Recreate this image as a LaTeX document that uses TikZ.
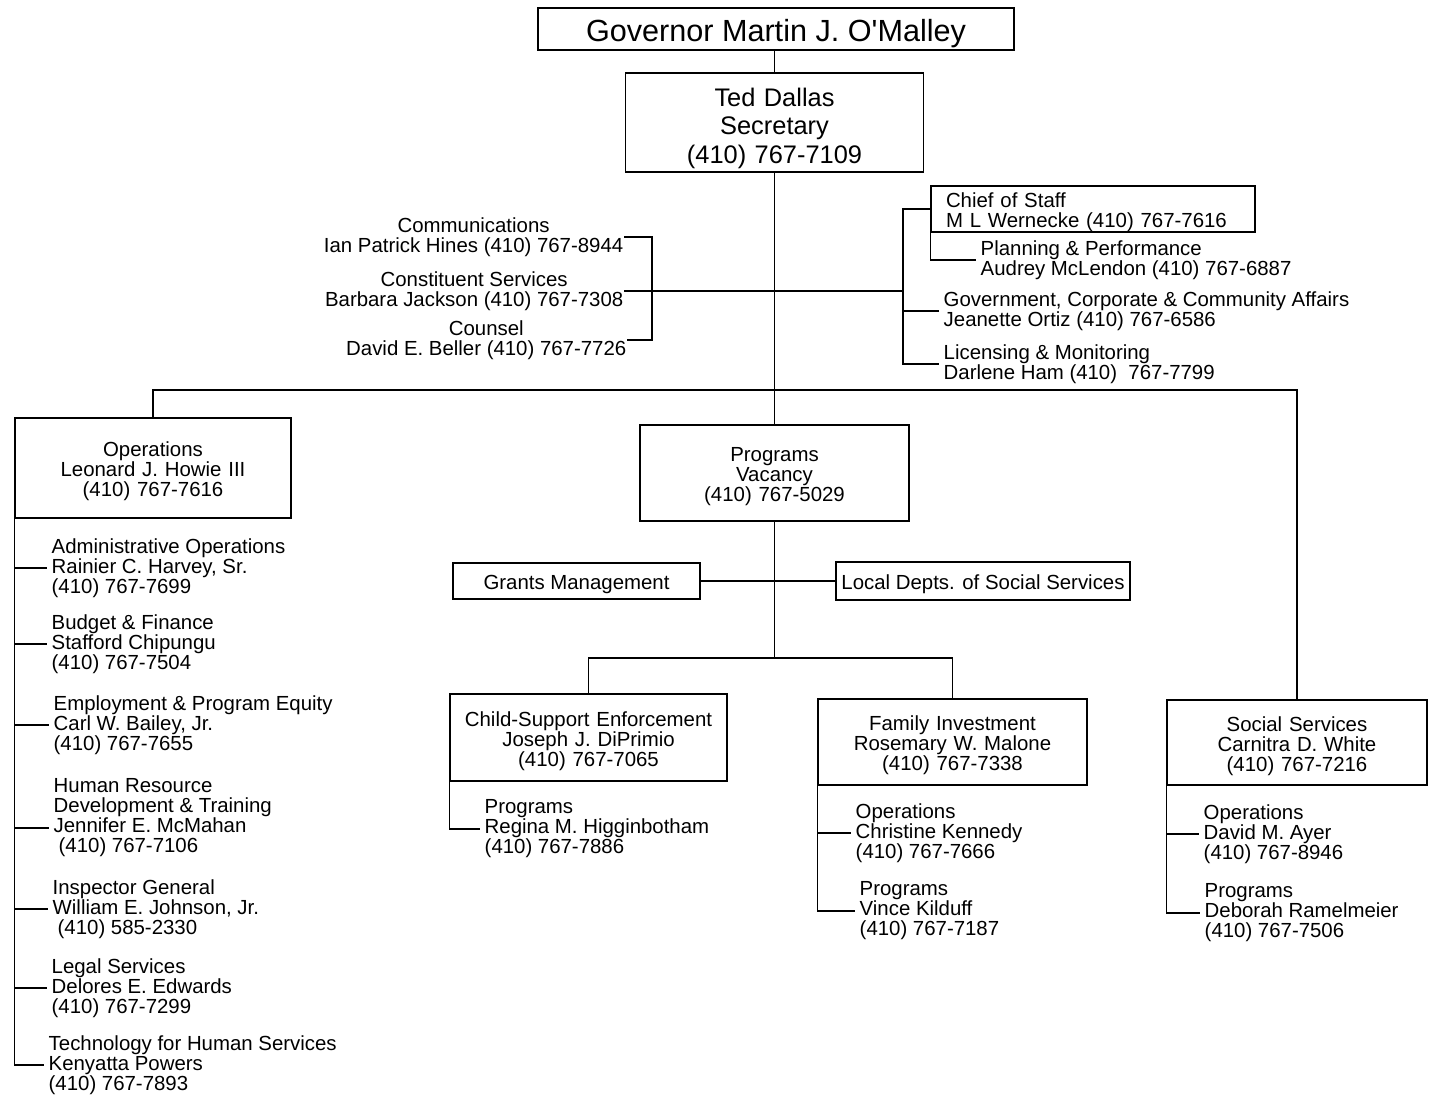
\documentclass[tikz,border=0pt]{standalone}
\usepackage{fontspec}
\setmainfont{Liberation Sans}
\usepackage{tikz}

\begin{document}
\begin{tikzpicture}[x=0.5pt,y=-0.5pt,line width=0.7pt,
	box/.style={draw,line width=0.8pt,align=center,inner sep=0pt,font=\fontsize{10.2}{10}\selectfont,execute at begin node={\rule{0pt}{11pt}}},
	lbl/.style={anchor=west,align=left,inner xsep=2pt,inner ysep=0pt,font=\fontsize{10.2}{10}\selectfont},
	staff/.style={anchor=east,align=center,inner sep=0pt,font=\fontsize{10.2}{10}\selectfont}]
	\useasboundingbox (0,0) rectangle (1429,1096);
	\node[box,minimum width=238pt,minimum height=21pt,font=\fontsize{15.3}{18}\selectfont,execute at begin node={\rule{0pt}{16pt}}] (gov) at (776,29) {Governor Martin J. O\textquotesingle Malley};
	\node[box,minimum width=149pt,text width=145pt,minimum height=49.5pt,font=\fontsize{12.7}{14.3}\selectfont,execute at begin node={\rule{0pt}{15pt}}] (sec) at (774.5,122.5) {Ted Dallas\\Secretary\\(410) 767-7109};
	\draw (sec.north) -- (sec.north |- gov.south);
	\node[staff] (comm) at (624,237) {Communications\\Ian Patrick Hines (410) 767-8944};
	\node[staff] (const) at (624,291) {Constituent Services\\Barbara Jackson (410) 767-7308};
	\node[staff] (couns) at (627,340) {Counsel\\David E. Beller (410) 767-7726};
	\coordinate (lk) at (652,291);
	\coordinate (rk) at (903,291);
	\draw (const.east) -- (rk);
	\draw (comm.east) -| (lk) |- (couns.east);
	\node[box,minimum width=162pt,minimum height=23pt,text width=147pt,align=left,inner xsep=7.5pt,execute at begin node={\rule{0pt}{9pt}}] (chief) at (1093,209) {Chief of Staff\\M L Wernecke (410) 767-7616};
	\node[lbl] (plan) at (976,260) {Planning \& Performance\\Audrey McLendon (410) 767-6887};
	\node[lbl] (govt) at (939,311) {Government, Corporate \& Community Affairs\\Jeanette Ortiz (410) 767-6586};
	\node[lbl] (lic) at (939,364) {Licensing \& Monitoring\\Darlene Ham (410)\ \ 767-7799};
	\draw (chief.west) -| (rk) |- (lic.west);
	\draw (govt.west) -- (govt.west -| rk);
	\draw (chief.south west) |- (plan.west);
	\node[box,minimum width=138pt,text width=134pt,minimum height=50pt] (ops) at (153,468) {Operations\\Leonard J. Howie III\\(410) 767-7616};
	\node[box,minimum width=134.5pt,text width=130pt,minimum height=48pt] (prg) at (774.5,473) {Programs\\Vacancy\\(410) 767-5029};
	\node[box,minimum width=130pt,text width=126pt,minimum height=42.5pt] (soc) at (1297,742.5) {Social Services\\Carnitra D. White\\(410) 767-7216};
	\coordinate (bus) at (774.5,390);
	\draw (sec.south) -- (prg.north);
	\draw (ops.north) |- (bus) -| (soc.north);
	\node[lbl] (adm) at (47,568) {Administrative Operations\\Rainier C. Harvey, Sr.\\(410) 767-7699};
	\node[lbl] (bud) at (47,644) {Budget \& Finance\\Stafford Chipungu\\(410) 767-7504};
	\node[lbl] (emp) at (49,725) {Employment \& Program Equity\\Carl W. Bailey, Jr.\\(410) 767-7655};
	\node[lbl] (hrd) at (49,818) {Human Resource\\Development \& Training\\Jennifer E. McMahan\\\hspace*{2.5pt}(410) 767-7106};
	\node[lbl] (insp) at (48,909) {Inspector General\\William E. Johnson, Jr.\\\hspace*{2.5pt}(410) 585-2330};
	\node[lbl] (leg) at (47,988) {Legal Services\\Delores E. Edwards\\(410) 767-7299};
	\node[lbl] (tech) at (44,1065) {Technology for Human Services\\Kenyatta Powers\\(410) 767-7893};
	\draw (ops.south west) |- (tech.west);
	\draw (ops.south west |- adm.west) -- (adm.west);
	\draw (ops.south west |- bud.west) -- (bud.west);
	\draw (ops.south west |- emp.west) -- (emp.west);
	\draw (ops.south west |- hrd.west) ++(0,10) -- ([yshift=-5pt]hrd.west);
	\draw (ops.south west |- insp.west) -- (insp.west);
	\draw (ops.south west |- leg.west) -- (leg.west);
	\node[box,minimum width=123.5pt,minimum height=18pt] (grm) at (576.5,581) {Grants Management};
	\node[box,minimum width=147pt,minimum height=19pt] (loc) at (983,581) {Local Depts. of Social Services};
	\draw (grm.east) -- (loc.west);
	\node[box,minimum width=138.5pt,text width=134pt,minimum height=43.5pt] (cse) at (588.5,737.5) {Child-Support Enforcement\\Joseph J. DiPrimio\\(410) 767-7065};
	\node[box,minimum width=134.5pt,text width=130pt,minimum height=43pt] (fam) at (952.5,742) {Family Investment\\Rosemary W. Malone\\(410) 767-7338};
	\coordinate (psplit) at (774.5,658);
	\draw (prg.south) -- (psplit);
	\draw (cse.north) |- (psplit) -| (fam.north);
	\node[lbl] (cseprg) at (480,829) {Programs\\Regina M. Higginbotham\\(410) 767-7886};
	\draw (cse.south west) |- (cseprg.west);
	\node[lbl] (famops) at (851,833) {Operations\\Christine Kennedy\\(410) 767-7666};
	\node[lbl] (famprg) at (855,911) {Programs\\Vince Kilduff\\(410) 767-7187};
	\draw (fam.south west) |- (famprg.west);
	\draw (fam.south west |- famops.west) -- (famops.west);
	\node[lbl] (socops) at (1199,834) {Operations\\David M. Ayer\\(410) 767-8946};
	\node[lbl] (socprg) at (1200,913) {Programs\\Deborah Ramelmeier\\(410) 767-7506};
	\draw (soc.south west) |- (socprg.west);
	\draw (soc.south west |- socops.west) -- (socops.west);
\end{tikzpicture}
\end{document}
